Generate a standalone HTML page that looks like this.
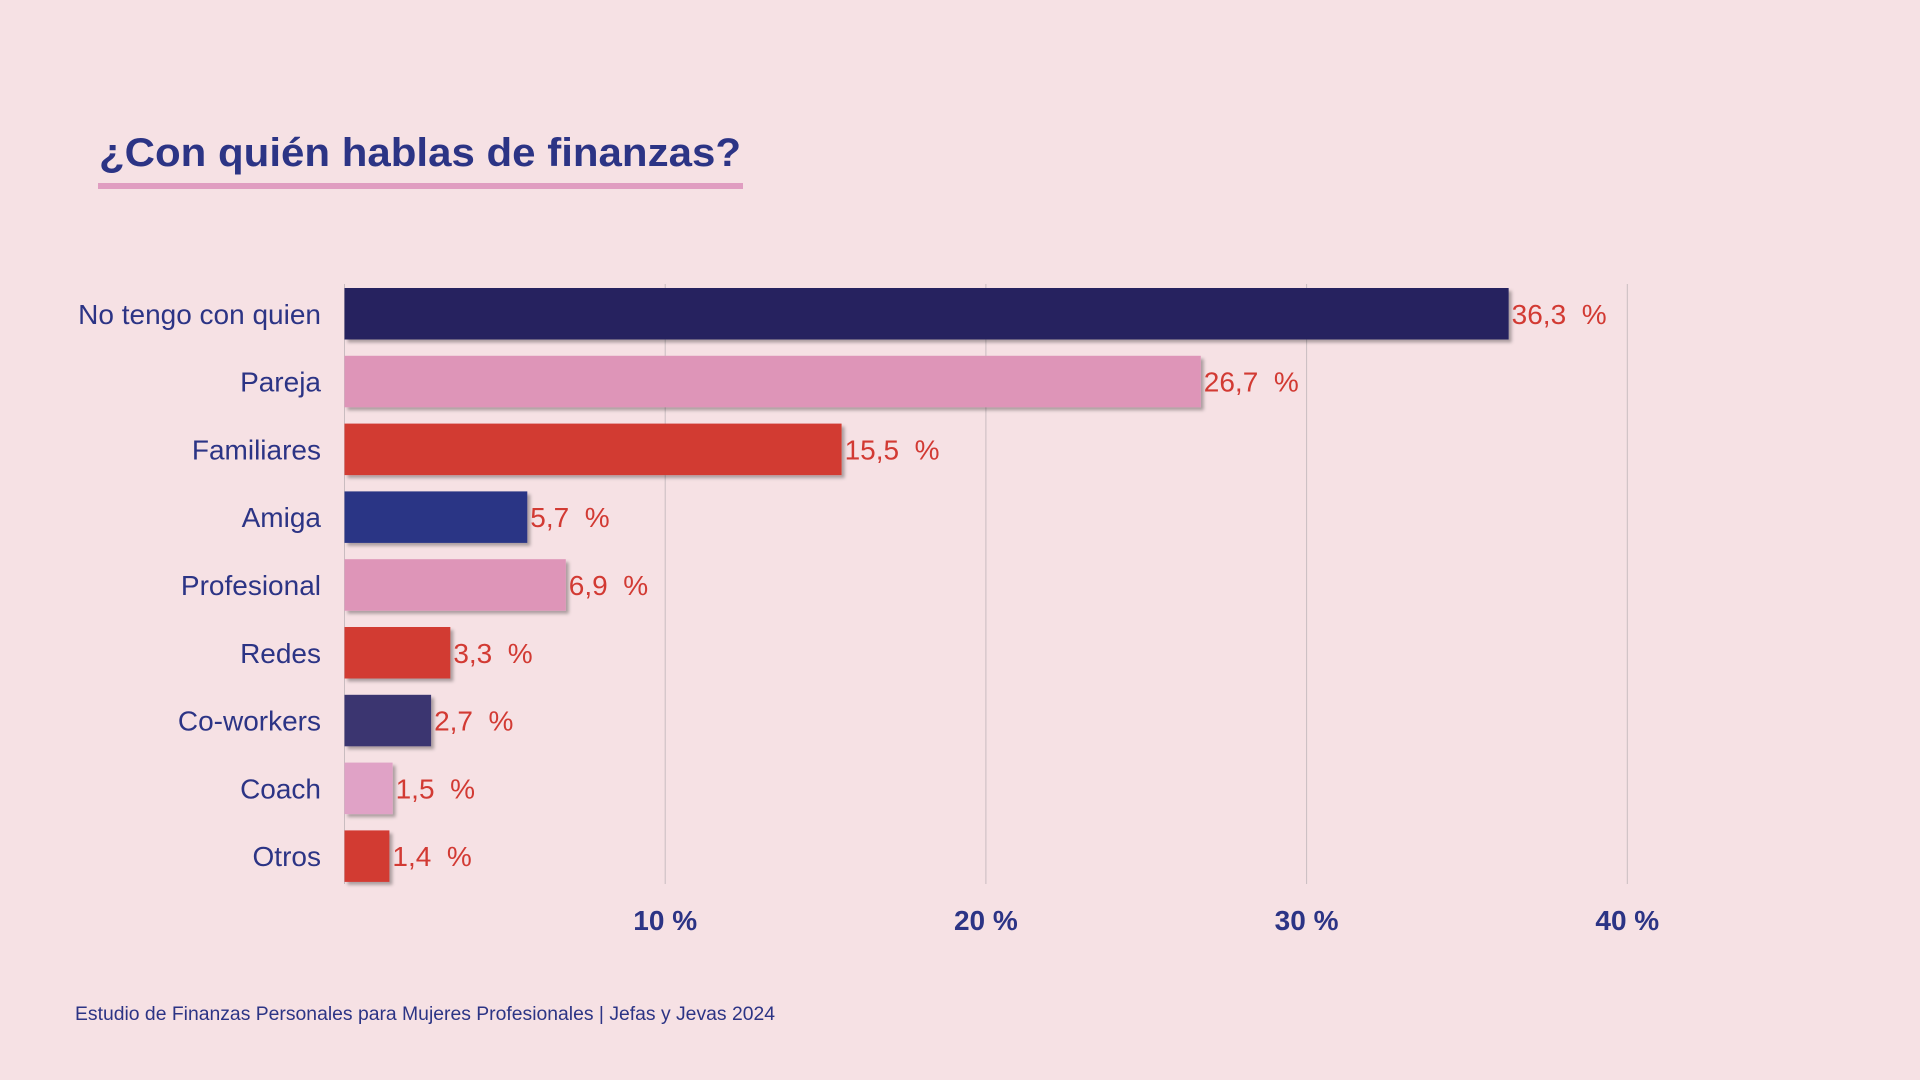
<!DOCTYPE html>
<html><head><meta charset="utf-8"><style>
html,body{margin:0;padding:0;background:#f6e1e4;}
svg{display:block;font-family:"Liberation Sans",sans-serif;}
</style></head><body>
<svg id="chart" width="1920" height="1080" viewBox="0 0 1920 1080" xmlns="http://www.w3.org/2000/svg">
<defs><filter id="sh" x="-5%" y="-10%" width="120%" height="140%"><feDropShadow dx="3" dy="3" stdDeviation="1.5" flood-color="#000" flood-opacity="0.3"/></filter></defs>
<rect width="1920" height="1080" fill="#f6e1e4"/>
<text x="99" y="166" font-size="40" font-weight="bold" fill="#2c3485" textLength="642" lengthAdjust="spacingAndGlyphs">¿Con quién hablas de finanzas?</text>
<rect x="98" y="183" width="645" height="6" fill="#e09dc1"/>
<g id="grid"></g>
<g id="bars"></g>
<text x="75" y="1020" font-size="19" fill="#2c3485" textLength="700" lengthAdjust="spacingAndGlyphs">Estudio de Finanzas Personales para Mujeres Profesionales | Jefas y Jevas 2024</text>
</svg>
<script>
const categories=["No tengo con quien","Pareja","Familiares","Amiga","Profesional","Redes","Co-workers","Coach","Otros"];
const values=[36.3,26.7,15.5,5.7,6.9,3.3,2.7,1.5,1.4];
const colors=["#27245e","#de95b8","#d23a33","#2c3585","#de95b8","#d23a33","#3b356f","#e0a2c6","#d23a33"];
const ticks=[10,20,30,40];
const NS="http://www.w3.org/2000/svg";
const x=v=>344.5+v*32.07;
const y=i=>288+i*67.8;
const bh=51.5;
function mk(t,a,p){const e=document.createElementNS(NS,t);for(const k in a)e.setAttribute(k,a[k]);p.appendChild(e);return e;}
const g=document.getElementById('grid'),b=document.getElementById('bars');
ticks.forEach(t=>{
 const l=mk('line',{x1:x(t),x2:x(t),y1:284,y2:884,stroke:'#c9bcc0','stroke-width':1},g);
 
 
 const tx=mk('text',{x:x(t),y:930,'font-size':28,'text-anchor':'middle',fill:'#2c3485','font-weight':'bold'},g);
 tx.textContent=t+' %';
 
 
});
const ax=mk('line',{x1:344.5,x2:344.5,y1:284,y2:884,stroke:'#c9bcc0','stroke-width':1},g);


categories.forEach((c,i)=>{
 const r=mk('rect',{x:x(0),y:y(i),width:x(values[i])-x(0),height:bh,fill:colors[i],filter:'url(#sh)'},b);
 
 
 const lb=mk('text',{x:321,y:y(i)+bh/2+10,'font-size':28,'text-anchor':'end',fill:'#2c3485'},b);
 lb.textContent=c;
 
 
 const v=mk('text',{x:x(values[i])+3,y:y(i)+bh/2+10,'font-size':28,fill:'#d23a33'},b);
 v.textContent=values[i].toFixed(1).replace('.',',')+'\u00a0\u00a0%';
 
 
});
</script>
</body></html>
